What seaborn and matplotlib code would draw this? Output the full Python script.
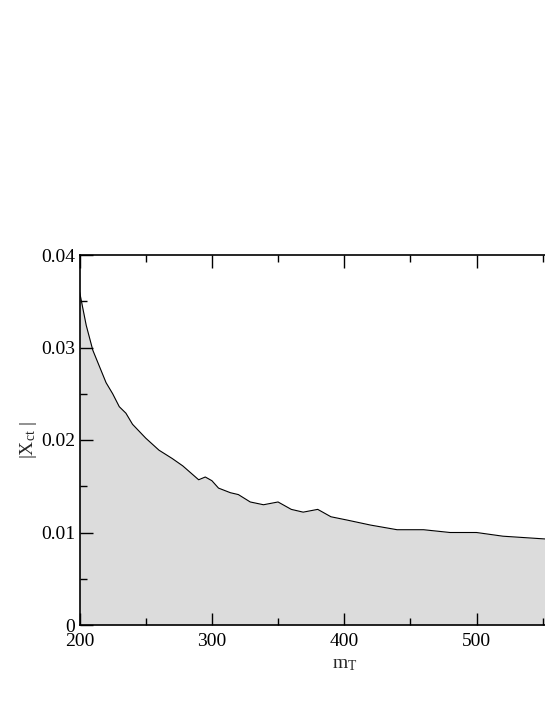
import numpy as np
import pandas as pd
import matplotlib
matplotlib.use("Agg")
import matplotlib.pyplot as plt
import seaborn as sns
from matplotlib.ticker import MultipleLocator, FixedLocator, FuncFormatter

# values
m_T = [200, 205, 210, 220, 225, 230, 235, 240, 250, 260, 270, 278, 290, 295,
       300, 305, 314, 320, 329, 339, 350, 360, 369, 380, 390, 402, 420, 440,
       460, 480, 500, 520, 552]
x_ct = [0.0360, 0.0324, 0.0297, 0.0262, 0.0250, 0.0236, 0.0229, 0.0217,
        0.0202, 0.0189, 0.0180, 0.0172, 0.0157, 0.0160, 0.0156, 0.0148,
        0.0143, 0.0141, 0.0133, 0.0130, 0.0133, 0.0125, 0.0122, 0.0125,
        0.0117, 0.01135, 0.0108, 0.0103, 0.0103, 0.0100, 0.0100, 0.0096,
        0.0093]
x_major = [200, 300, 400, 500]

df = pd.DataFrame({"m_T": m_T, "X_ct": x_ct})

sns.set_style("ticks")
plt.rcParams['font.family'] = ['Liberation Serif', 'DejaVu Serif']
plt.rcParams['mathtext.fontset'] = 'custom'
plt.rcParams['mathtext.rm'] = 'Liberation Serif'
plt.rcParams['mathtext.it'] = 'Liberation Serif:italic'

fig = plt.figure(figsize=(5.45, 7.05), dpi=100)
# axes runs past the right edge of the figure (cropped like the original)
ax = fig.add_axes([79.6 / 545, 80 / 705, 529.2 / 545, 370 / 705])
ax.set_axisbelow(False)

ax.fill_between(df["m_T"], 0, df["X_ct"], color="#dcdcdc", linewidth=0)
sns.lineplot(data=df, x="m_T", y="X_ct", color="black", linewidth=0.8,
             estimator=None, sort=False, ax=ax)

ax.set_xlim(200, 600)
ax.set_ylim(0, 0.04)
ax.xaxis.set_major_locator(FixedLocator(x_major))
ax.xaxis.set_minor_locator(MultipleLocator(50))
ax.yaxis.set_major_locator(MultipleLocator(0.01))
ax.yaxis.set_minor_locator(MultipleLocator(0.005))
ax.yaxis.set_major_formatter(FuncFormatter(lambda v, p: "0" if abs(v) < 1e-9 else f"{v:.2f}"))

ax.tick_params(which="both", direction="in", top=True, right=True, width=1, colors="black")
ax.tick_params(which="major", length=9, labelsize=14)
ax.tick_params(which="minor", length=5)
ax.tick_params(axis="x", which="major", pad=6)
ax.tick_params(axis="y", which="major", pad=3)

for s in ax.spines.values():
    s.set_linewidth(1.2)
    s.set_color("black")

ax.set_xlabel(r"m$_\mathrm{T}$", fontsize=14, labelpad=4)
ax.set_ylabel(r"|X$_\mathrm{ct}$ |", fontsize=14, labelpad=2)

fig.savefig("out.png", dpi=100)
